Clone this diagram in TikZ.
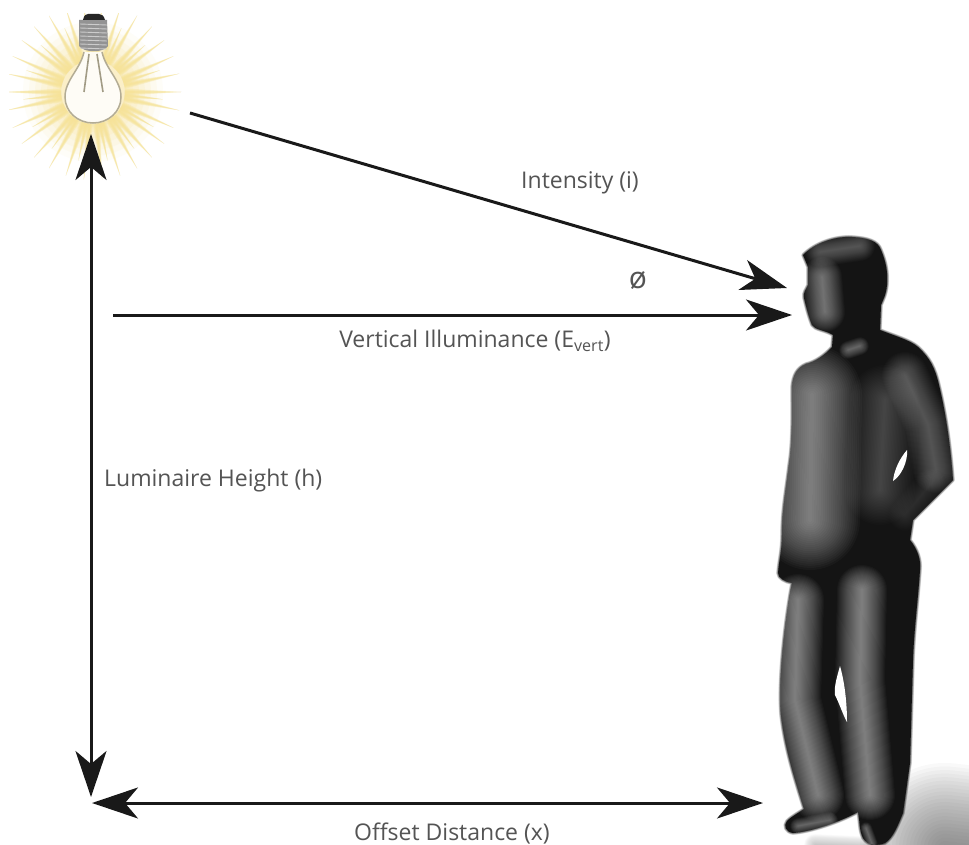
\documentclass[tikz,border=0pt]{standalone}
\usepackage{fontspec}
\setmainfont{Open Sans}
\usetikzlibrary{arrows.meta}
\definecolor{labelgray}{gray}{0.33}
\definecolor{raycolor}{HTML}{F6E292}
\definecolor{glowcolor}{HTML}{FBEDBB}
\definecolor{glassline}{HTML}{B3AC94}
\tikzset{
  label text/.style={font=\fontsize{23}{25}\selectfont, text=labelgray, inner sep=0pt},
  big arrow/.style={draw=black!90, line width=3pt},
  hd/.style={-{Stealth[length=46pt,width=31pt,inset=13pt]}},
  hdboth/.style={{Stealth[length=46pt,width=31pt,inset=13pt]}-{Stealth[length=46pt,width=31pt,inset=13pt]}},
}
\newcommand{\softline}[4]{%
  \foreach \i in {1,...,24}{%
    \draw[#1, line width=\i/24*#2, opacity=#3, line cap=round, line join=round] #4;}}
\newcommand{\softray}[4]{% angle, inner radius, outer radius, half angle
  \foreach \k/\o in {1/0.3,0.75/0.3,0.5/0.35,0.25/0.4}{%
    \fill[raycolor, opacity=\o] ({93+#2*cos(#1-\k*#4)},{92+#2*sin(#1-\k*#4)})
      -- ({93+#3*cos(#1)},{92+#3*sin(#1)})
      -- ({93+#2*cos(#1+\k*#4)},{92+#2*sin(#1+\k*#4)}) -- cycle;}}
\newcommand{\personpath}{(803,255) .. controls (815,243) and (835,236) .. (852,237)
  .. controls (868,238) and (878,241) .. (881,250)
  .. controls (886,262) and (888,272) .. (887,285)
  .. controls (886,295) and (883,300) .. (881,305)
  -- (880,330) .. controls (895,336) and (910,340) .. (918,347)
  .. controls (930,358) and (935,368) .. (939,385)
  .. controls (945,410) and (950,440) .. (953,480)
  -- (913,520) -- (910,540)
  .. controls (918,550) and (921,560) .. (920,570)
  .. controls (918,600) and (914,630) .. (913,660)
  -- (910,763) -- (903,813)
  .. controls (898,825) and (893,838) .. (885,843)
  .. controls (878,846) and (868,846) .. (863,838)
  .. controls (859,830) and (860,822) .. (858,812)
  .. controls (840,822) and (810,832) .. (793,833)
  .. controls (786,832) and (783,826) .. (787,821)
  .. controls (792,816) and (800,812) .. (804,809)
  .. controls (795,780) and (785,750) .. (781,715)
  .. controls (778,680) and (785,620) .. (792,583)
  .. controls (785,582) and (778,578) .. (778,573)
  .. controls (779,560) and (782,550) .. (782,535)
  .. controls (782,510) and (786,490) .. (789,465)
  .. controls (793,440) and (792,410) .. (792,387)
  .. controls (793,375) and (797,368) .. (806,364)
  .. controls (815,362) and (825,355) .. (832,347)
  -- (833,335) .. controls (825,330) and (815,330) .. (812,325)
  .. controls (808,315) and (806,306) .. (804,298)
  .. controls (803,292) and (806,290) .. (808,285)
  -- (808,267) -- cycle}
\begin{document}
\begin{tikzpicture}[x=1pt,y=-1pt]
\useasboundingbox (0,0) rectangle (969,845);
\fill[white] (0,0) rectangle (969,845);

% glow and rays of the lamp
\begin{scope}
  \clip (9,14) rectangle (185,190);
  \foreach \r/\o in {70/0.1,64/0.14,58/0.18,52/0.25,46/0.3,40/0.35}{
    \fill[glowcolor, opacity=\o] (93,92) circle (\r);}
  \foreach \a in {0,12,...,348}{\softray{\a}{32}{88}{6.5}}
  \foreach \a in {6,30,...,354}{\softray{\a}{32}{70}{5}}
\end{scope}

% lamp
\fill[white, opacity=0.85] (84,52) .. controls (80,70) and (65,80) .. (65,97)
   .. controls (65,112) and (78,123) .. (93,123)
   .. controls (108,123) and (121,112) .. (121,97)
   .. controls (121,80) and (106,70) .. (102,52) -- cycle;
\draw[glassline, line width=1.5pt] (84,52) .. controls (80,70) and (65,80) .. (65,97)
   .. controls (65,112) and (78,123) .. (93,123)
   .. controls (108,123) and (121,112) .. (121,97)
   .. controls (121,80) and (106,70) .. (102,52);
\draw[glassline!90!black, line width=1.6pt] (89,54) -- (84,92);
\draw[glassline!90!black, line width=1.6pt] (97,54) -- (103,92);
\fill[gray!85] (79,20) -- (107,20) -- (108,46) .. controls (104,53) and (84,53) .. (79,46) -- cycle;
\foreach \y in {24,28,...,48}{\draw[gray!40, line width=0.9pt] (80,\y) -- (107,\y+1);}
\fill[black!85] (83,20) .. controls (84,15) and (86,14) .. (88,14) -- (99,14)
   .. controls (102,14) and (104,16) .. (105,20) -- cycle;

% ground shadow
\softline{black!75}{170pt}{0.03}{(945,848) -- (1005,855)}
\softline{black!75}{22pt}{0.01}{(815,845) -- (880,848)}

% person
\softline{black}{4pt}{0.03}{\personpath}
\fill[black!92] \personpath;
\begin{scope}
  \clip \personpath;
  \softline{white}{30pt}{0.016}{(820,252) -- (860,246)}
  \softline{white}{40pt}{0.022}{(822,277) -- (825,312)}
  \softline{white}{18pt}{0.02}{(848,350) -- (860,346)}
  \softline{white}{100pt}{0.028}{(812,395) -- (810,520)}
  \softline{white}{70pt}{0.012}{(885,400) -- (880,490)}
  \softline{white}{46pt}{0.016}{(905,375) -- (928,425) -- (936,470)}
  \softline{white}{32pt}{0.009}{(930,485) -- (905,515)}
  \softline{white}{52pt}{0.027}{(798,600) -- (795,700) -- (818,795)}
  \softline{white}{50pt}{0.029}{(862,590) -- (860,680) -- (870,795)}
  \softline{white}{16pt}{0.02}{(798,826) -- (830,820)}
  \softline{white}{12pt}{0.02}{(866,828) -- (872,844)}
\end{scope}
\fill[white] (907,450) .. controls (900,458) and (894,470) .. (893,481)
   .. controls (901,476) and (908,462) .. (907,450) -- cycle;
\fill[white] (840,666) .. controls (836,680) and (834,688) .. (835,695)
   .. controls (840,705) and (843,715) .. (847,722)
   .. controls (847,700) and (844,680) .. (840,666) -- cycle;

% connectors
\coordinate (intA) at (190,113);
\coordinate (intB) at (787,288);
\coordinate (verA) at (113,315);
\coordinate (verB) at (792,315);
\coordinate (hA) at (91,134);
\coordinate (hB) at (91,797);
\coordinate (xA) at (92,803);
\coordinate (xB) at (763,803);
\draw[big arrow, hd] (intA) -- (intB);
\draw[big arrow, hd] (verA) -- (verB);
\draw[big arrow, hdboth] (hA) -- (hB);
\draw[big arrow, hdboth] (xA) -- (xB);

% labels
\node[label text] (intensity) at (580,183) {Intensity (i)};
\node[label text, font=\fontsize{30}{32}\selectfont] (phi) at (638,281) {ø};
\node[label text] (vertical) at (475,341) {Vertical Illuminance (E\textsubscript{vert})};
\node[label text, anchor=west] (height) at (104,481) {Luminaire Height (h)};
\node[label text] (offset) at (452,834) {Offset Distance (x)};
\end{tikzpicture}
\end{document}
